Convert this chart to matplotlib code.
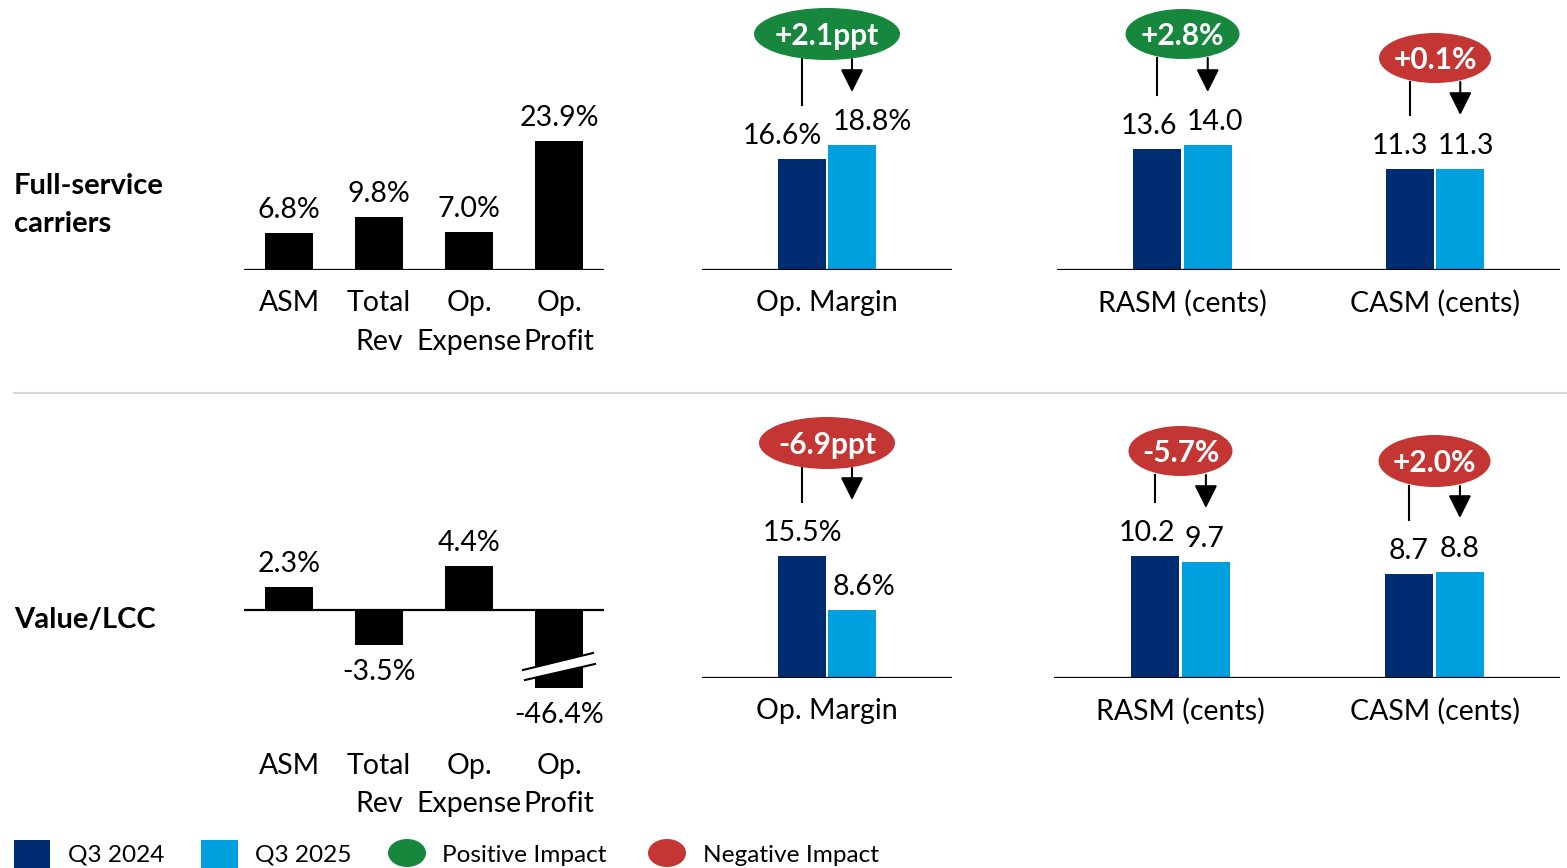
import matplotlib.pyplot as plt
from matplotlib.patches import Ellipse, Rectangle, Polygon

W, H = 1567, 868
DARK = '#002D72'
LIGHT = '#00A0DF'
GREEN = '#16873C'
RED = '#C43634'
FS = 20.5
NUDGE = 2  # Lato sits a little high with va='center'

plt.rcParams['font.family'] = ['Lato', 'DejaVu Sans']

# year-over-year growth, Q3 2025 vs Q3 2024
growth_cats = ['ASM', 'Total\nRev', 'Op.\nExpense', 'Op.\nProfit']
fsc_growth = [6.8, 9.8, 7.0, 23.9]
lcc_growth = [2.3, -3.5, 4.4, -46.4]

# operating margin (%)
fsc_margin = [16.6, 18.8]
lcc_margin = [15.5, 8.6]

# unit revenue / unit cost (cents)
unit_cats = ['RASM (cents)', 'CASM (cents)']
fsc_unit_2024 = [13.6, 11.3]
fsc_unit_2025 = [14.0, 11.3]
lcc_unit_2024 = [10.2, 8.7]
lcc_unit_2025 = [9.7, 8.8]

# change bubbles: margin, RASM, CASM
fsc_change = ['+2.1ppt', '+2.8%', '+0.1%']
fsc_positive = [True, True, False]
lcc_change = ['-6.9ppt', '-5.7%', '+2.0%']
lcc_positive = [False, False, False]

fig = plt.figure(figsize=(W / 100, H / 100), dpi=100)


def px_axes(x0, x1, y_top, y_bot):
    ax = fig.add_axes([x0 / W, 1 - y_bot / H, (x1 - x0) / W, (y_bot - y_top) / H])
    ax.axis('off')
    return ax


def to_px(ax, x, y):
    dx, dy = ax.transData.transform((x, y))
    return dx, H - dy


def bar_label(ax, x, v, text, dx=0, dy=25):
    lo = ax.get_ylim()[0]
    end = max(v, lo)
    sign = 1 if v >= 0 else -1
    ax.annotate(text, xy=(x, end), xytext=(dx, dy * sign - NUDGE), textcoords='offset pixels',
                ha='center', va='center', fontsize=FS)


def growth_panel(ax, values, ylim):
    xs = list(range(len(values)))
    ax.bar(xs, values, width=0.53, color='black', zorder=2)
    ax.set_xlim(-0.5, len(values) - 0.5)
    ax.set_ylim(*ylim)
    ax.axhline(0, color='black', lw=1.6, zorder=3)
    for x, v in zip(xs, values):
        bar_label(ax, x, v, f'{v:.1f}%')
    return xs


def pair_panel(ax, groups, v24, v25, xlim, ylim, width, fmt, dxs):
    for i, (g, a, b) in enumerate(zip(groups, v24, v25)):
        ax.bar(g - 0.5, a, width=width, color=DARK, zorder=2)
        ax.bar(g + 0.5, b, width=width, color=LIGHT, zorder=2)
        bar_label(ax, g - 0.5, a, fmt.format(a), dx=dxs[i][0])
        bar_label(ax, g + 0.5, b, fmt.format(b), dx=dxs[i][1])
    ax.set_xlim(*xlim)
    ax.set_ylim(*ylim)
    ax.axhline(0, color='black', lw=1.6, zorder=3)


# top row: full-service carriers
a1 = px_axes(244, 604, 100, 270)
growth_panel(a1, fsc_growth, (0, 31.5))
a2 = px_axes(702, 952, 100, 270)
pair_panel(a2, [0], [fsc_margin[0]], [fsc_margin[1]], (-2.5, 2.5), (0, 25.5), 0.96,
           '{:.1f}%', [(-20, 20)])
a3 = px_axes(1057, 1560, 100, 270)
pair_panel(a3, [0, 5], fsc_unit_2024, fsc_unit_2025, (-2.485, 7.475), (0, 19.1), 0.95,
           '{:.1f}', [(-8, 7), (-10, 6)])

# bottom row: value / low-cost carriers
b1 = px_axes(244, 604, 540, 688)
growth_panel(b1, lcc_growth, (-7.8, 7.0))
b2 = px_axes(702, 952, 540, 678)
pair_panel(b2, [0], [lcc_margin[0]], [lcc_margin[1]], (-2.5, 2.5), (0, 17.47), 0.96,
           '{:.1f}%', [(0, 12)])
b3 = px_axes(1054, 1560, 540, 678)
pair_panel(b3, [0, 5], lcc_unit_2024, lcc_unit_2025, (-2.49, 7.47), (0, 11.5), 0.945,
           '{:.1f}', [(-8, -1), (-1, 0)])

# overlay in pixel coordinates for labels, bubbles and legend
ov = fig.add_axes([0, 0, 1, 1])
ov.set_xlim(0, W)
ov.set_ylim(H, 0)
ov.axis('off')
ov.patch.set_alpha(0)


def label(x, y, s, **kw):
    kw.setdefault('fontsize', FS)
    kw.setdefault('ha', 'center')
    ov.text(x, y + NUDGE, s, va='center', **kw)


for ax, y1, y2 in [(a1, 301, 340), (b1, 764, 802)]:
    for i, cat in enumerate(growth_cats):
        px, _ = to_px(ax, i, 0)
        for line, y in zip(cat.split('\n'), (y1, y2)):
            label(px, y, line)

for ax, y in [(a2, 301), (b2, 709)]:
    px, _ = to_px(ax, 0, 0)
    label(px, y, 'Op. Margin')

for ax, y in [(a3, 301), (b3, 709)]:
    for g, cat in zip([0, 5], unit_cats):
        px, _ = to_px(ax, g, 0)
        label(px, y, cat)

# axis break on the clipped Op. Profit bar
bx, _ = to_px(b1, 3, 0)
ov.add_patch(Polygon([(bx - 36, 670), (bx + 34, 653), (bx + 36, 664), (bx - 34, 680)],
                     closed=True, facecolor='white', edgecolor='none', zorder=5))
ov.plot([bx - 36, bx + 34], [670, 653], color='black', lw=1.5, zorder=6)
ov.plot([bx - 34, bx + 36], [680, 664], color='black', lw=1.5, zorder=6)


def bubble(ax, g, text, positive, cy, w, h, line_end, arrow_end):
    xl, _ = to_px(ax, g - 0.5, 0)
    xr, _ = to_px(ax, g + 0.5, 0)
    cx = (xl + xr) / 2
    colour = GREEN if positive else RED
    ov.add_patch(Ellipse((cx, cy), w, h, facecolor=colour, edgecolor='none', zorder=4))
    label(cx, cy, text, color='white', fontsize=21.5, fontweight='bold', zorder=5)
    ov.plot([xl, xl], [cy + h / 2 - 1, line_end], color='black', lw=1.5, zorder=3)
    ov.annotate('', xy=(xr, arrow_end), xytext=(xr, cy + h / 2 - 1),
                arrowprops=dict(arrowstyle='-|>,head_width=0.35,head_length=0.7',
                                color='black', lw=1.5, mutation_scale=20, shrinkA=0, shrinkB=0),
                zorder=3)


bubble(a2, 0, fsc_change[0], fsc_positive[0], 34, 146, 52, 105, 92)
bubble(a3, 0, fsc_change[1], fsc_positive[1], 34, 114, 50, 95, 92)
bubble(a3, 5, fsc_change[2], fsc_positive[2], 58, 112, 50, 115, 115)
bubble(b2, 0, lcc_change[0], lcc_positive[0], 443, 136, 52, 502, 500)
bubble(b3, 0, lcc_change[1], lcc_positive[1], 451, 104, 50, 502, 508)
bubble(b3, 5, lcc_change[2], lcc_positive[2], 461, 112, 52, 520, 518)

# row titles and divider
RFS = 21
label(14, 184, 'Full-service', ha='left', fontsize=RFS, fontweight='bold')
label(14, 222, 'carriers', ha='left', fontsize=RFS, fontweight='bold')
label(14, 618, 'Value/LCC', ha='left', fontsize=RFS, fontweight='bold')
ov.plot([14, W], [393, 393], color='#D9D9D9', lw=1.5)

# legend
LFS = 17.6
ov.add_patch(Rectangle((14, 840), 36, 36, facecolor=DARK, edgecolor='none'))
label(68, 853, 'Q3 2024', ha='left', fontsize=LFS)
ov.add_patch(Rectangle((201, 840), 37, 36, facecolor=LIGHT, edgecolor='none'))
label(255, 853, 'Q3 2025', ha='left', fontsize=LFS)
ov.add_patch(Ellipse((407, 853), 38, 28, facecolor=GREEN, edgecolor='none'))
label(442, 853, 'Positive Impact', ha='left', fontsize=LFS)
ov.add_patch(Ellipse((667, 853), 38, 28, facecolor=RED, edgecolor='none'))
label(703, 853, 'Negative Impact', ha='left', fontsize=LFS)

fig.savefig('out.png', dpi=100)
